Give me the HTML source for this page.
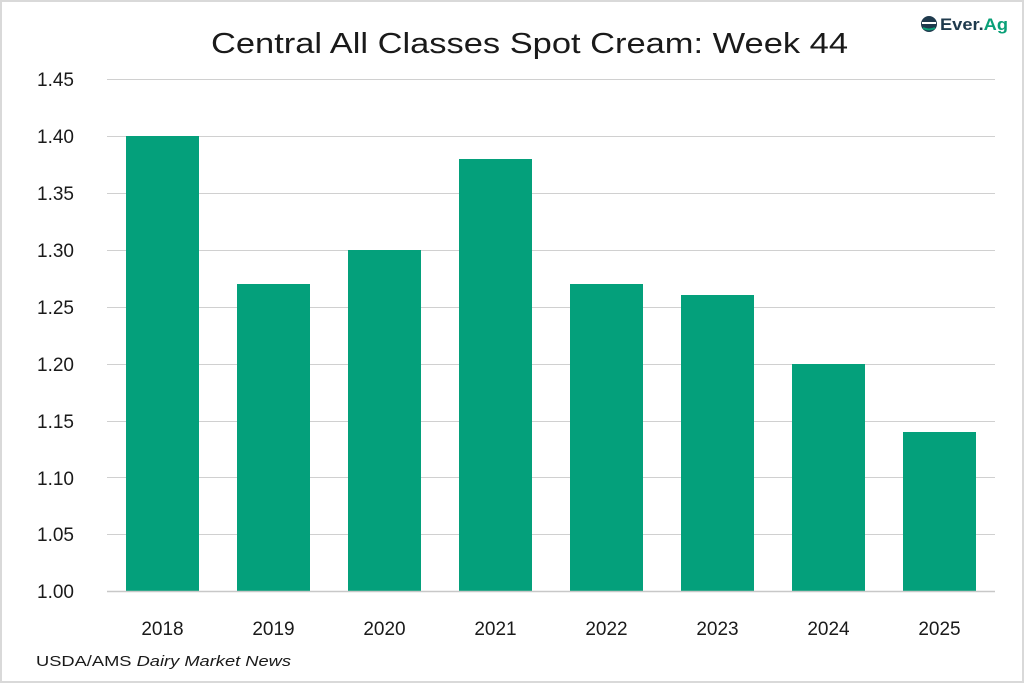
<!DOCTYPE html>
<html><head><meta charset="utf-8"><style>
html,body{margin:0;padding:0;background:#fff}
svg{display:block}
text{font-family:"Liberation Sans",sans-serif;fill:#1a1a1a}
</style></head><body>
<svg width="1024" height="683" viewBox="0 0 1024 683" xmlns="http://www.w3.org/2000/svg">
<rect x="1" y="1" width="1022" height="681" fill="#fff" stroke="#d9d9d9" stroke-width="2"/>
<text x="211" y="53" font-size="29" textLength="637" lengthAdjust="spacingAndGlyphs">Central All Classes Spot Cream: Week 44</text>
<g>
<circle cx="929" cy="24" r="8" fill="#1f3a4d"/>
<path d="M922 23 h14" stroke="#fff" stroke-width="2"/>
<path d="M923 28 q6 3 12 0" stroke="#0aa078" stroke-width="2" fill="none"/>
<text x="940" y="30" font-size="17" font-weight="bold" textLength="68" lengthAdjust="spacingAndGlyphs" style="fill:#1f3a4d">Ever.<tspan style="fill:#0aa078">Ag</tspan></text>
</g>
<g stroke="#d0d0d0" stroke-width="1">
<line x1="107" x2="995" y1="79.5" y2="79.5"/>
<line x1="107" x2="995" y1="136.5" y2="136.5"/>
<line x1="107" x2="995" y1="193.5" y2="193.5"/>
<line x1="107" x2="995" y1="250.5" y2="250.5"/>
<line x1="107" x2="995" y1="307.5" y2="307.5"/>
<line x1="107" x2="995" y1="364.5" y2="364.5"/>
<line x1="107" x2="995" y1="421.5" y2="421.5"/>
<line x1="107" x2="995" y1="477.5" y2="477.5"/>
<line x1="107" x2="995" y1="534.5" y2="534.5"/>
</g>
<g fill="#04a07b">
<rect x="126" y="136" width="73" height="455"/>
<rect x="237" y="284" width="73" height="307"/>
<rect x="348" y="250" width="73" height="341"/>
<rect x="459" y="159" width="73" height="432"/>
<rect x="570" y="284" width="73" height="307"/>
<rect x="681" y="295" width="73" height="296"/>
<rect x="792" y="364" width="73" height="227"/>
<rect x="903" y="432" width="73" height="159"/>
</g>
<line x1="107" x2="995" y1="591.5" y2="591.5" stroke="#c8c8c8" stroke-width="1.5"/>
<g font-size="19" text-anchor="start">
<text x="37" y="86">1.45</text>
<text x="37" y="143">1.40</text>
<text x="37" y="200">1.35</text>
<text x="37" y="257">1.30</text>
<text x="37" y="314">1.25</text>
<text x="37" y="371">1.20</text>
<text x="37" y="428">1.15</text>
<text x="37" y="485">1.10</text>
<text x="37" y="541">1.05</text>
<text x="37" y="598">1.00</text>
</g>
<g font-size="19" text-anchor="middle">
<text x="162.5" y="635">2018</text>
<text x="273.5" y="635">2019</text>
<text x="384.5" y="635">2020</text>
<text x="495.5" y="635">2021</text>
<text x="606.5" y="635">2022</text>
<text x="717.5" y="635">2023</text>
<text x="828.5" y="635">2024</text>
<text x="939.5" y="635">2025</text>
</g>
<text x="36" y="666" font-size="15" textLength="255" lengthAdjust="spacingAndGlyphs">USDA/AMS <tspan font-style="italic">Dairy Market News</tspan></text>
</svg>
</body></html>
